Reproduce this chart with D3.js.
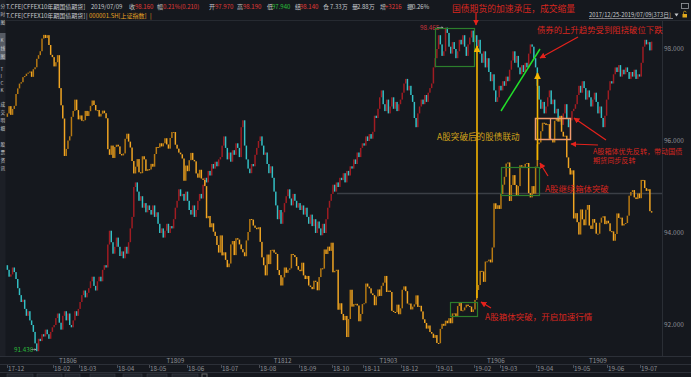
<!DOCTYPE html>
<html><head><meta charset="utf-8">
<script src="https://cdn.jsdelivr.net/npm/d3@7"></script>
<style>
html,body{margin:0;padding:0;background:#15181e;overflow:hidden}
svg{display:block}
text{font-family:"Noto Sans CJK SC","Noto Sans",sans-serif}
</style></head><body>
<svg id="c" width="691" height="377"></svg>
<script>
// ---------- data ----------
const holidays = ["2018-01-01","2018-02-15","2018-02-16","2018-02-19","2018-02-20","2018-02-21","2018-04-05","2018-04-06","2018-04-30","2018-05-01","2018-06-18","2018-09-24","2018-10-01","2018-10-02","2018-10-03","2018-10-04","2018-10-05","2018-12-31","2019-01-01","2019-02-04","2019-02-05","2019-02-06","2019-02-07","2019-02-08","2019-04-05","2019-05-01","2019-05-02","2019-05-03","2019-06-07"];

// T.CFE 10-year treasury futures, daily close
const bondClose = [
93.20,93.05,93.10,93.25,93.15,
93.00,92.80,92.65,92.50,92.55,92.35,92.20,92.30,92.10,92.00,91.85,91.60,91.43,91.70,91.65,91.80,91.75,91.90,91.80,91.70,91.85,91.95,
92.00,92.15,92.25,92.05,91.90,92.20,92.30,92.10,92.25,92.00,91.95,92.10,92.30,92.20,92.35,
92.50,92.65,92.75,92.60,92.70,92.80,92.95,93.05,92.85,92.75,92.95,93.05,92.95,93.20,93.30,93.25,93.75,94.05,93.80,93.55,93.70,93.90,
93.70,93.50,93.60,93.45,93.70,93.55,93.80,94.10,94.35,95.00,95.10,94.90,94.70,94.80,94.55,94.65,94.45,94.60,
94.50,94.40,94.60,94.35,94.45,94.20,94.00,94.10,93.90,94.05,94.20,94.00,94.15,94.10,94.30,94.55,94.70,94.95,94.80,94.85,94.70,94.90,
94.70,94.50,94.40,94.60,94.35,94.50,94.70,94.85,94.75,95.05,95.20,95.10,95.35,95.25,95.50,95.40,95.55,95.45,95.60,95.65,
95.90,96.10,95.85,95.60,95.75,95.55,95.80,95.70,95.95,95.85,95.65,96.30,96.45,95.90,95.60,95.40,95.30,95.50,95.45,95.70,95.85,96.00,
96.10,95.90,95.70,95.75,95.50,95.30,95.45,95.20,94.90,94.60,94.30,94.50,94.20,94.45,94.65,94.80,94.95,94.75,94.60,94.85,94.70,94.55,94.65,
94.50,94.60,94.40,94.55,94.35,94.20,94.40,94.15,94.30,94.00,94.25,94.10,93.95,94.20,94.00,94.30,94.55,94.70,94.85,
95.05,94.90,95.10,95.00,95.20,95.15,95.30,95.10,95.35,95.25,95.45,95.40,95.60,95.50,95.75,95.65,95.85,95.95,
95.90,96.10,96.00,96.15,96.05,96.20,96.55,96.50,96.70,96.95,97.10,96.80,96.65,96.90,96.60,96.75,96.95,96.70,96.85,96.65,96.80,96.90,
97.05,97.25,97.35,97.10,97.20,97.00,96.85,96.50,96.30,96.60,96.75,96.90,96.80,97.00,96.85,97.05,97.15,97.25,97.60,97.80,
98.00,98.30,98.10,97.85,97.95,98.465,98.35,98.05,97.90,98.15,98.00,97.80,97.95,98.20,98.10,98.30,98.05,97.85,98.10,98.25,98.40,98.15,
98.30,98.05,98.20,97.90,97.70,97.95,97.60,97.80,97.50,97.30,97.45,97.10,96.85,96.95,97.20,
97.10,97.30,97.20,97.40,97.30,97.55,97.75,97.95,97.70,97.85,97.60,97.45,97.65,97.50,97.70,97.60,97.90,98.10,98.05,97.80,97.60,
97.20,96.90,96.70,96.85,96.60,96.75,96.95,97.10,96.80,96.90,96.60,96.70,96.45,96.55,96.35,96.60,96.80,96.50,96.30,96.45,96.65,
96.70,96.80,97.00,97.20,97.05,97.30,97.15,96.90,97.10,96.95,96.75,96.90,97.05,96.85,96.60,96.75,96.50,96.30,96.55,96.90,
97.10,97.30,97.25,97.45,97.60,97.50,97.65,97.40,97.55,97.45,97.60,97.50,97.35,97.50,97.40,97.55,97.35,97.45,97.40,
97.70,98.05,98.20,98.10,98.15,97.97,98.16];

// 000001.SH overlay, daily close
const indexClose = [
3280,3306,3275,3296,3307,
3349,3369,3386,3391,3409,3413,3421,3425,3429,3410,3437,3444,3474,3487,3501,3546,3559,3548,3558,3523,3488,3480,
3447,3462,3487,3370,3309,3262,3129,3154,3184,3199,3268,3289,3329,3292,3259,
3273,3254,3256,3289,3271,3288,3307,3326,3310,3291,3292,3269,3279,3290,3281,3263,3153,3133,3166,3122,3161,3169,
3163,3136,3131,3138,3190,3208,3180,3159,3111,3067,3091,3118,3071,3068,3128,3117,3076,3082,
3081,3101,3091,3136,3161,3159,3174,3163,3174,3192,3170,3155,3193,3214,3214,3169,3155,3141,3135,3120,3041,3095,
3075,3114,3140,3115,3110,3067,3052,3080,3049,3044,3022,2908,2916,2876,2890,2860,2845,2813,2786,2847,
2776,2787,2760,2734,2747,2815,2827,2777,2837,2832,2815,2798,2787,2773,2829,2859,2905,2903,2882,2874,2869,2876,
2824,2769,2741,2705,2779,2745,2795,2796,2786,2781,2724,2706,2669,2698,2733,2714,2725,2730,2781,2777,2770,2738,2725,
2720,2750,2705,2692,2703,2669,2664,2656,2686,2682,2652,2699,2730,2729,2797,2781,2807,2792,2821,
2716,2721,2725,2583,2606,2568,2546,2561,2486,2550,2654,2594,2603,2604,2598,2542,2568,2603,
2606,2676,2665,2659,2641,2635,2599,2630,2655,2632,2668,2679,2703,2646,2651,2646,2579,2575,2574,2601,2567,2588,
2654,2666,2649,2605,2605,2584,2594,2602,2634,2593,2597,2577,2549,2536,2516,2527,2504,2498,2483,2493,
2465,2464,2515,2533,2526,2544,2535,2553,2535,2570,2570,2560,2596,2610,2579,2581,2591,2601,2596,2594,2575,2584,
2618,2653,2671,2721,2719,2682,2754,2755,2761,2751,2804,2961,2941,2954,2941,
2994,3027,3055,3102,3106,2969,3026,3061,3026,2990,3022,3096,3091,3090,3101,3104,2997,2982,3022,2995,3091,
3171,3177,3217,3247,3245,3239,3242,3190,3189,3177,3254,3263,3251,3271,3215,3198,3201,3124,3086,3063,3078,
2907,2926,2894,2850,2939,2904,2883,2938,2955,2882,2870,2905,2892,2853,2853,2892,2910,2915,2887,2899,
2890,2862,2861,2828,2852,2925,2909,2910,2882,2888,2891,2917,2988,3001,3008,2982,2976,2996,2979,
3044,3043,3015,3005,3011,2933,2928];

const bondTicks = [92, 94, 96, 98];
const monthLabels = ["17-12","18-02","18-03","18-04","18-05","18-06","18-07","18-08","18-09","18-10","18-11","18-12","19-01","19-02","19-03","19-04","19-05","19-06","19-07"];
const contractLabels = ["T1806","T1809","T1812","T1903","T1906","T1909"];
const contractDates = ["2018-02-13","2018-05-23","2018-08-20","2018-11-21","2019-02-26","2019-05-24"];

// ---------- build ----------
function tradingDays(start, end) {
  const hs = new Set(holidays), out = [];
  const d = new Date(start + "T00:00:00Z"), e = new Date(end + "T00:00:00Z");
  while (d <= e) {
    const wd = d.getUTCDay(), s = d.toISOString().slice(0, 10);
    if (wd !== 0 && wd !== 6 && !hs.has(s)) out.push(s);
    d.setUTCDate(d.getUTCDate() + 1);
  }
  return out;
}
const dates = tradingDays("2017-12-25", "2019-07-09");
const bond = dates.map((d, i) => ({d, o: i ? bondClose[i-1] : 93.30, c: bondClose[i]}));
const idx = dates.map((d, i) => ({d, o: i ? indexClose[i-1] : 3268, c: indexClose[i]}));

const svg = d3.select("#c");
const W = 691, H = 377;
const BG = "#15181e";
svg.append("rect").attr("width", W).attr("height", H).attr("fill", BG);

const x = d3.scaleBand().domain(dates).range([6.5, 652.5]);
const y = d3.scaleLinear().domain([92, 98]).range([325, 49]);
const yi = d3.scaleLinear().domain([2440, 3587]).range([350, 27]);
const bw = x.bandwidth();
const cw = Math.max(1, bw * 0.85);

// frame lines
const g0 = svg.append("g");
g0.append("line").attr("x1", 6).attr("x2", W).attr("y1", 20.5).attr("y2", 20.5).attr("stroke", "#262a31");
g0.append("line").attr("x1", 662.5).attr("x2", 662.5).attr("y1", 21).attr("y2", 356).attr("stroke", "#2a2e35");
g0.append("line").attr("x1", 0).attr("x2", W).attr("y1", 356.5).attr("y2", 356.5).attr("stroke", "#2c3038");
g0.append("line").attr("x1", 0).attr("x2", W).attr("y1", 364.5).attr("y2", 364.5).attr("stroke", "#2c3038");
g0.append("line").attr("x1", 0).attr("x2", W).attr("y1", 372.5).attr("y2", 372.5).attr("stroke", "#2c3038");

// horizontal reference line
g0.append("line").attr("x1", 337).attr("x2", 662).attr("y1", 193.5).attr("y2", 193.5)
  .attr("stroke", "#3b3f46").attr("stroke-width", 1.6);

// candles
function candles(data, ys, upCol, dnCol, cls) {
  svg.append("g").attr("class", cls).selectAll("rect").data(data).join("rect")
    .attr("x", d => x(d.d) + (bw - cw) / 2)
    .attr("width", cw)
    .attr("y", d => ys(Math.max(d.o, d.c)))
    .attr("height", d => Math.max(1, Math.abs(ys(d.o) - ys(d.c))))
    .attr("fill", d => d.c >= d.o ? upCol : dnCol);
}
candles(bond, y, "#a01c22", "#33c1c6", "bond");
candles(idx, yi, "#b87a12", "#f2a623", "idx");

// right axis
const ax = svg.append("g");
ax.selectAll("text").data(bondTicks).join("text")
  .attr("x", 664).attr("y", d => y(d) + 2.3)
  .attr("font-size", 6.5).attr("fill", "#8d9096")
  .text(d => d3.format(".3f")(d));

// month axis
const monthFirst = monthLabels.map(m => dates.find(d => d.slice(0, 7) === "20" + m));
const mx = svg.append("g");
monthFirst.forEach((d, i) => {
  const xx = Math.round(x(d)) + 0.5;
  mx.append("line").attr("x1", xx).attr("x2", xx).attr("y1", 365).attr("y2", 368).attr("stroke", "#4a4e56");
  mx.append("text").attr("x", xx + 0.5).attr("y", 370.7).attr("font-size", 6.3).attr("fill", "#8d9096").text(monthLabels[i]);
});
contractDates.forEach((d, i) => {
  mx.append("text").attr("x", x(d) + bw / 2).attr("y", 362.6).attr("text-anchor", "middle")
    .attr("font-size", 6.3).attr("fill", "#8d9096").text(contractLabels[i]);
});

// bottom tabs
[[7,26],[37,25],[65,15],[90,25],[123,19],[147,20],[172,26]].forEach(t => {
  svg.append("rect").attr("x", t[0]).attr("y", 374).attr("width", t[1]).attr("height", 6)
    .attr("fill", "#22262d").attr("stroke", "#3a3e46").attr("stroke-width", 0.6);
});
svg.append("rect").attr("x", 202).attr("y", 374).attr("width", 5).attr("height", 5).attr("fill", "none").attr("stroke", "#666");

// left toolbar strip
svg.append("rect").attr("x", 0).attr("y", 0).attr("width", 5.5).attr("height", 356).attr("fill", "#1c1f26");
svg.append("rect").attr("x", 0).attr("y", 33).attr("width", 5.5).attr("height", 27).attr("fill", "#565b64");
const tb = [["分",8],["时",16],["图",24],["K",42],["线",50],["图",58],["T",71],["I",78],["C",85],["K",92],["成",106],["交",114],["明",122],["细",130],["股",146],["票",154],["资",162],["讯",170]];
tb.forEach(t => svg.append("text").attr("x", 0.4).attr("y", t[1]).attr("font-size", 4.6).attr("fill", "#c9ccd1").text(t[0]));

// header
const RED = "#e03a36", GRN = "#29c23a", LT = "#c6c8cc", ORG = "#e8a322";
const hdr1 = [[6,"T.CFE[CFFEX10年期国债期货]",LT],[91,"2019/07/09",LT],[129,"收",LT],[135,"98.160",RED],[157,"幅",LT],[163,"0.21%(0.210)",RED],[209,"开",LT],[215,"97.970",RED],[237,"高",LT],[243,"98.190",RED],[267,"低",LT],[272,"97.940",GRN],[295,"结",LT],[300,"98.140",RED],[323,"仓",LT],[330,"7.33万",LT],[352,"量",LT],[357,"2.88万",LT],[380,"增",LT],[385,"+3216",RED],[407,"振",LT],[412,"0.26%",LT]];
hdr1.forEach(h => svg.append("text").attr("x", h[0]).attr("y", 8.6).attr("font-size", 6).attr("fill", h[2]).text(h[1]));
const hdr2 = [[6,"T.CFE[CFFEX10年期国债期货]",LT],[86,"|",LT],[89,"000001.SH[上证指数]",ORG],[150,"|",ORG]];
hdr2.forEach(h => svg.append("text").attr("x", h[0]).attr("y", 17.8).attr("font-size", 6).attr("fill", h[2]).text(h[1]));

// top right
svg.append("text").attr("x", 589).attr("y", 17).attr("font-size", 5.8).attr("fill", "#c6c8cc").text("2017/12/25-2019/07/09[373日]");
svg.append("line").attr("x1", 589).attr("x2", 673).attr("y1", 18.5).attr("y2", 18.5).attr("stroke", "#c6c8cc").attr("stroke-width", 0.6);
svg.append("path").attr("d", "M674.5,13.5 L678.5,13.5 L676.5,16.5 Z").attr("fill", "#c6c8cc");
svg.append("rect").attr("x", 682.5).attr("y", 14).attr("width", 4.5).attr("height", 3.5).attr("fill", "#e0a81c");
svg.append("path").attr("d", "M683.5,14 v-1.5 a1.3,1.3 0 0 1 2.6,0").attr("fill", "none").attr("stroke", "#e0a81c").attr("stroke-width", 0.7);
svg.append("rect").attr("x", 681.5).attr("y", 3.5).attr("width", 7).attr("height", 5).attr("fill", "none").attr("stroke", "#9a9da3").attr("stroke-width", 0.8);

// extreme labels
svg.append("text").attr("x", 420).attr("y", 29.5).attr("font-size", 6.3).attr("fill", "#c8343a").text("98.465");
svg.append("line").attr("x1", 437).attr("x2", 443).attr("y1", 27.5).attr("y2", 27.5).attr("stroke", "#aaa").attr("stroke-width", 0.6);
svg.append("path").attr("d", "M443.5,27.5 l-2,-1.3 v2.6 Z").attr("fill", "#aaa");
svg.append("text").attr("x", 14).attr("y", 351.5).attr("font-size", 6.3).attr("fill", "#2cb83c").text("91.430");
svg.append("line").attr("x1", 31).attr("x2", 36).attr("y1", 349.5).attr("y2", 349.5).attr("stroke", "#aaa").attr("stroke-width", 0.6);
svg.append("path").attr("d", "M36.5,349.5 l-2,-1.3 v2.6 Z").attr("fill", "#aaa");

// ---------- annotations ----------
const defs = svg.append("defs");
function marker(id, col, s) {
  defs.append("marker").attr("id", id).attr("viewBox", "0 0 10 10").attr("refX", 9).attr("refY", 5)
    .attr("markerWidth", s).attr("markerHeight", s).attr("orient", "auto").attr("markerUnits", "userSpaceOnUse")
    .append("path").attr("d", "M0,0 L10,5 L0,10 Z").attr("fill", col);
}
marker("ar", "#e5221c", 6);
marker("ay", "#f4b400", 7);
const an = svg.append("g");
function arrow(x1, y1, x2, y2, col, m, w) {
  an.append("line").attr("x1", x1).attr("y1", y1).attr("x2", x2).attr("y2", y2)
    .attr("stroke", col).attr("stroke-width", w).attr("marker-end", `url(#${m})`);
}
function box(x0, y0, w, h, col, sw) {
  an.append("rect").attr("x", x0).attr("y", y0).attr("width", w).attr("height", h)
    .attr("fill", "none").attr("stroke", col).attr("stroke-width", sw);
}
function label(x0, yy, t, col, fs) {
  an.append("text").attr("x", x0).attr("y", yy).attr("font-size", fs).attr("fill", col).text(t);
}
const AR = "#d7261f";
box(435.5, 28.5, 39, 38, "#2c7e2c", 1.2);
box(501.5, 167.5, 38, 28, "#2c7e2c", 1.2);
box(450.5, 302.5, 27, 14, "#2c7e2c", 1.2);
box(535.5, 118.5, 35, 21, "#f09a6e", 1.5);
an.append("line").attr("x1", 550.5).attr("x2", 550.5).attr("y1", 118.5).attr("y2", 139.5).attr("stroke", "#f09a6e").attr("stroke-width", 1.3);

an.append("line").attr("x1", 501).attr("y1", 111).attr("x2", 540).attr("y2", 49).attr("stroke", "#22e02a").attr("stroke-width", 1.5);
arrow(477, 298, 477, 46, "#f4b400", "ay", 1.6);
arrow(537.5, 160, 537.5, 73, "#f4b400", "ay", 1.6);

label(452, 11.5, "国债期货的加速承压，成交缩量", AR, 8.8);
arrow(476, 12, 476, 25, "#e5221c", "ar", 1.2);
label(537, 33, "债券的上升趋势受到阻挠破位下跌", AR, 8.4);
arrow(578, 37, 540, 58, "#e5221c", "ar", 1.2);
label(437, 139.5, "A股突破后的股债联动", "#d3a31a", 8.6);
label(545, 191.5, "A股继续箱体突破", AR, 8.4);
arrow(548, 176, 540, 163, "#e5221c", "ar", 1.2);
arrow(606, 140, 574, 118, "#e5221c", "ar", 1.2);
arrow(598, 145, 571, 144, "#e5221c", "ar", 1.2);
label(593, 154, "A股箱体优先反转，带动国债", AR, 7.1);
label(593, 163, "期货同步反转", AR, 7.1);
label(485, 319.5, "A股箱体突破，开启加速行情", AR, 8.5);
arrow(491, 308, 481, 302, "#e5221c", "ar", 1.2);
</script>
</body></html>
